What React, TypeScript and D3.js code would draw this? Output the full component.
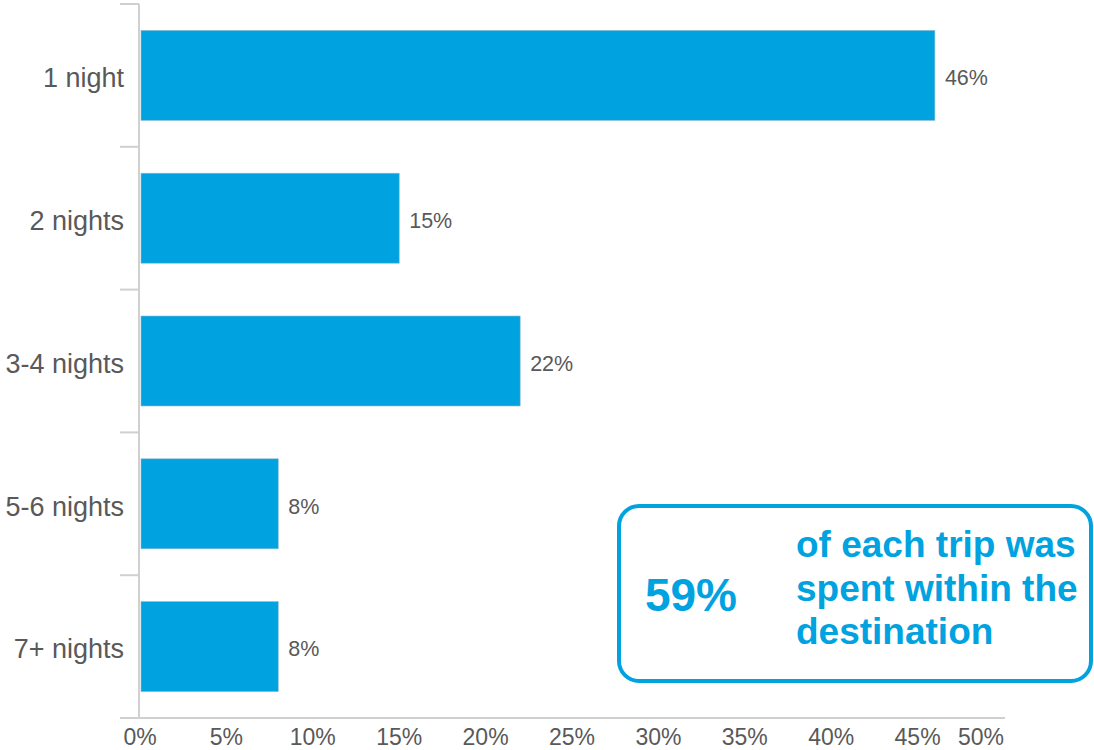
import React from "react";
import * as d3 from "d3";

const categories = ["1 night", "2 nights", "3-4 nights", "5-6 nights", "7+ nights"];
const values = [46, 15, 22, 8, 8];
const xTicks = [0, 5, 10, 15, 20, 25, 30, 35, 40, 45, 50];
const calloutValue = "59%";
const calloutLines = ["of each trip was", "spent within the", "destination"];

const W = 1094;
const H = 750;
const BLUE = "#00A3E0";
const TEXT = "#595959";
const AXIS = "#d0d0d0";
const FONT = "'Liberation Sans', Arial, sans-serif";

export default function App() {
  const x = d3.scaleLinear().domain([0, 50]).range([140, 1004]);
  const y = d3
    .scaleBand<string>()
    .domain(categories)
    .range([4, 718])
    .paddingInner(0.37)
    .paddingOuter(0.185);
  const step = y.step();
  const bandStarts = categories.map((_, i) => 4 + i * step);

  return (
    <svg
      width={W}
      height={H}
      style={{ position: "absolute", left: 0, top: 0, background: "#fff" }}
      fontFamily={FONT}
    >
      {/* vertical axis */}
      <line x1={139} x2={139} y1={4} y2={718} stroke={AXIS} strokeWidth={2} />
      {bandStarts.map((b, i) => (
        <line key={"vt" + i} x1={120} x2={139} y1={b} y2={b} stroke={AXIS} strokeWidth={2} />
      ))}
      {/* horizontal axis */}
      <line x1={120} x2={1005} y1={718} y2={718} stroke={AXIS} strokeWidth={2} />

      {/* bars */}
      {categories.map((c, i) => (
        <rect
          key={c}
          x={x(0) + 1}
          y={y(c)}
          width={x(values[i]) - x(0) - 1}
          height={y.bandwidth()}
          fill={BLUE}
          stroke="#8ab8cc"
          strokeWidth={0.6}
        />
      ))}

      {/* category labels */}
      {categories.map((c) => (
        <text
          key={"l" + c}
          x={124}
          y={(y(c) as number) + y.bandwidth() / 2}
          dy="0.44em"
          textAnchor="end"
          fontSize={27}
          fill={TEXT}
        >
          {c}
        </text>
      ))}

      {/* value labels */}
      {categories.map((c, i) => (
        <text
          key={"v" + c}
          x={x(values[i]) + 10}
          y={(y(c) as number) + y.bandwidth() / 2}
          dy="0.46em"
          fontSize={21.5}
          fill={TEXT}
        >
          {values[i] + "%"}
        </text>
      ))}

      {/* x tick labels */}
      {xTicks.map((t, i) => (
        <text
          key={"t" + t}
          x={x(t)}
          y={745}
          textAnchor={i === xTicks.length - 1 ? "end" : "middle"}
          fontSize={23}
          fill={TEXT}
        >
          {t + "%"}
        </text>
      ))}

      {/* callout */}
      <rect
        x={619}
        y={506}
        width={472}
        height={175}
        rx={20}
        ry={20}
        fill="#fff"
        stroke={BLUE}
        strokeWidth={4}
      />
      <text x={691} y={611} textAnchor="middle" fontSize={46} fontWeight="bold" fill={BLUE}>
        {calloutValue}
      </text>
      {calloutLines.map((l, i) => (
        <text
          key={"c" + i}
          x={796}
          y={557 + i * 43.5}
          fontSize={37}
          fontWeight="bold"
          fill={BLUE}
        >
          {l}
        </text>
      ))}
    </svg>
  );
}
